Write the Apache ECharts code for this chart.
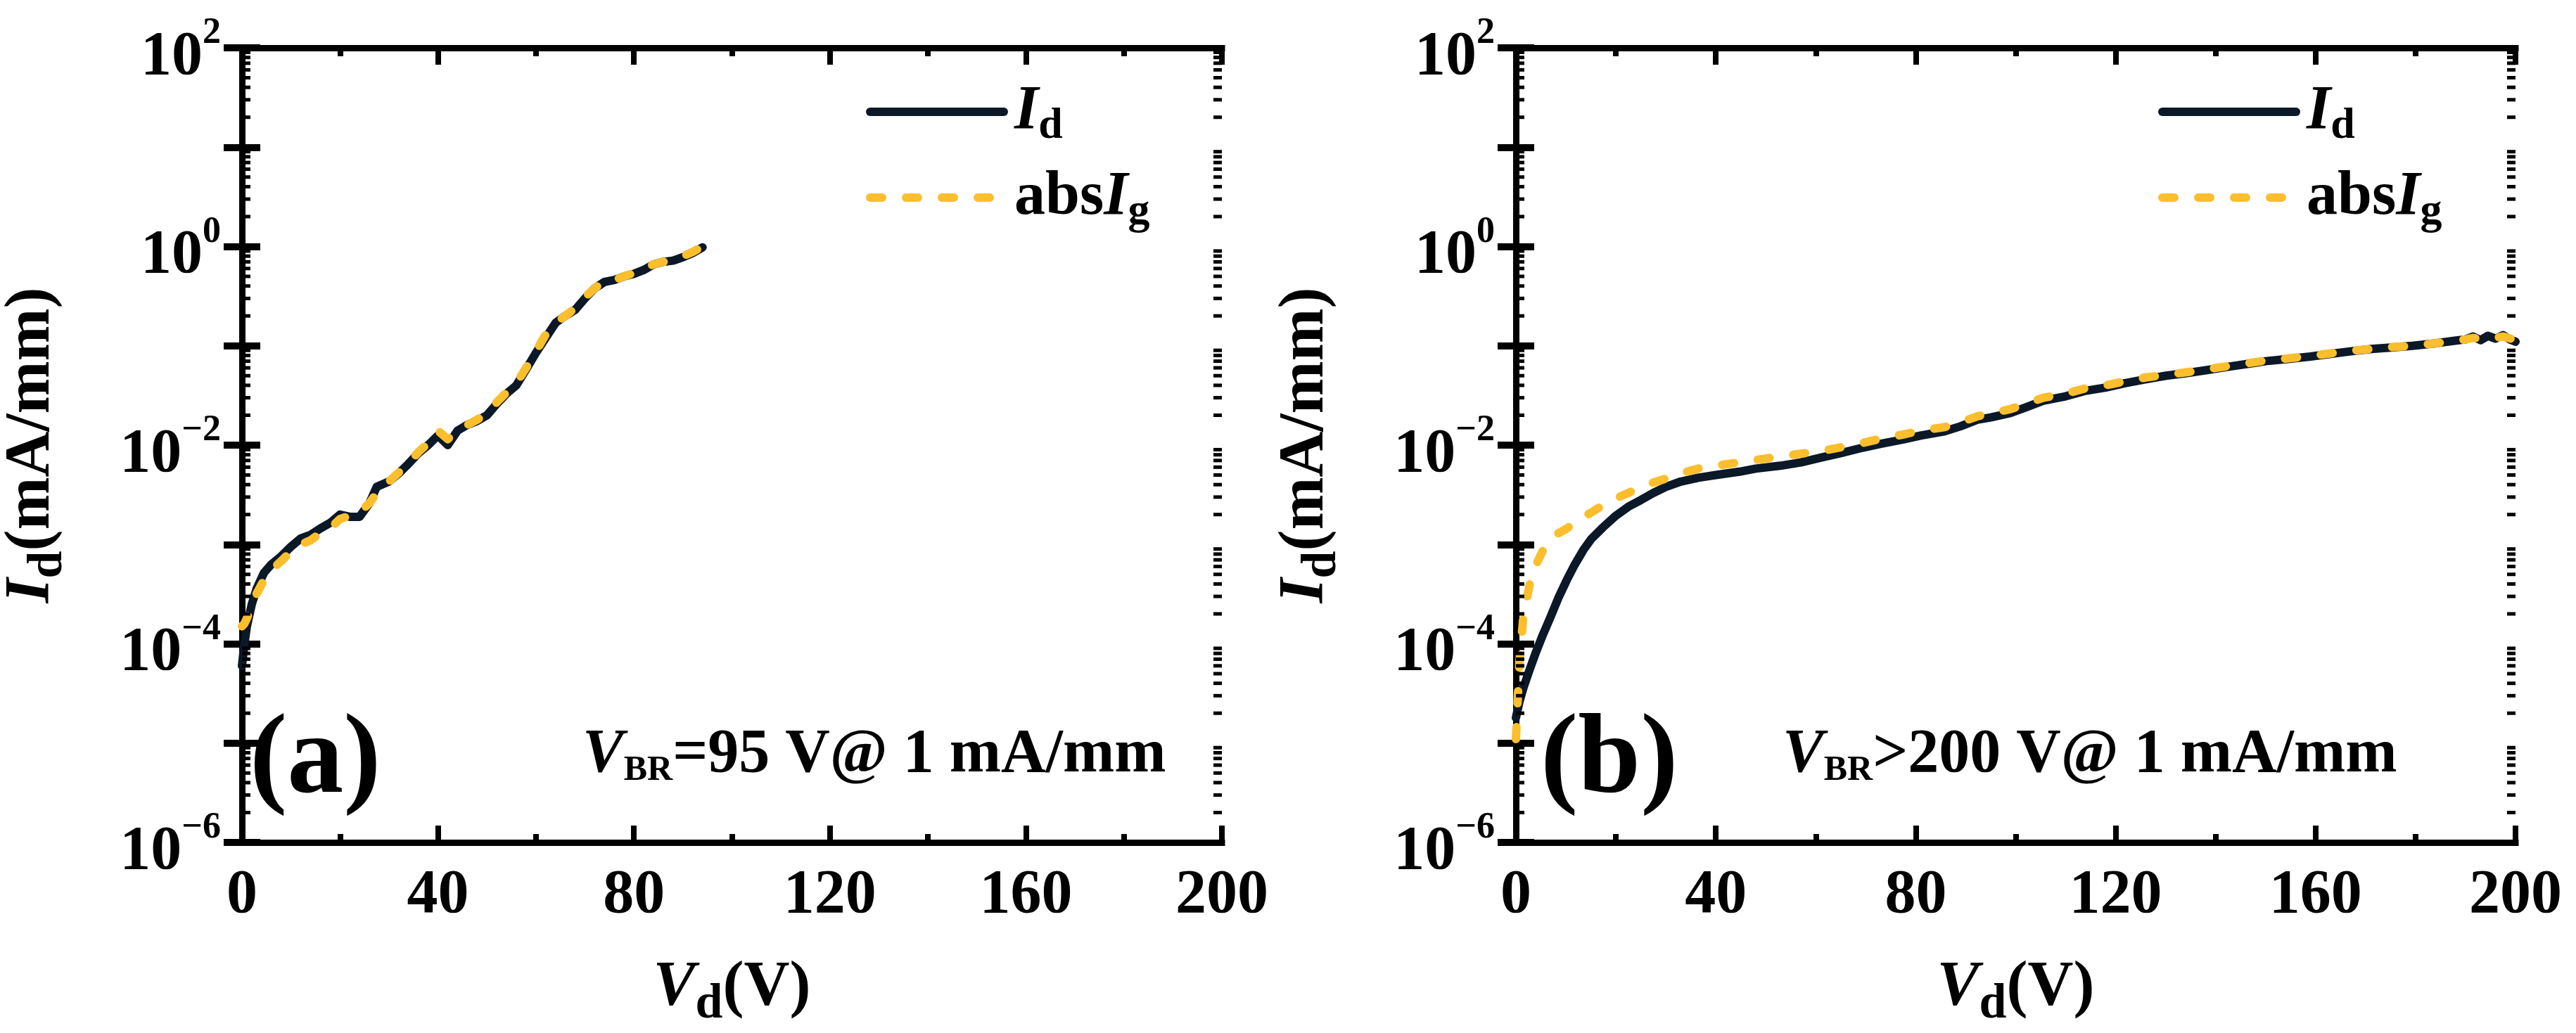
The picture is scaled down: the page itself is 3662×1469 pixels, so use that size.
<!DOCTYPE html>
<html>
<head>
<meta charset="utf-8">
<script src="https://cdn.jsdelivr.net/npm/echarts@6/dist/echarts.min.js"></script>
<style>
  html, body { margin: 0; padding: 0; background: #fff; }
  #main { width: 3662px; height: 1469px; }
</style>
</head>
<body>
<div id="main"></div>
<script>
// panel (a): breakdown at 95 V
var vdA   = [0, 0.5, 1, 2, 3, 4.5, 6, 8, 10, 12, 14, 16, 18, 20, 22, 24, 26, 27.5, 30, 32, 34, 36, 38, 40, 42, 44, 46, 48, 50, 52, 54, 56, 58, 60, 62, 64, 66, 68, 70, 72, 74, 76, 78, 80, 82, 84, 86, 88, 90, 92, 94];
var idA   = [6e-5, 1e-4, 1.5e-4, 2.5e-4, 3.6e-4, 5.2e-4, 6.3e-4, 7.6e-4, 9.5e-4, 1.15e-3, 1.25e-3, 1.45e-3, 1.65e-3, 2.0e-3, 1.9e-3, 1.9e-3, 2.6e-3, 3.8e-3, 4.3e-3, 5.2e-3, 6.5e-3, 8.3e-3, 1.0e-2, 1.25e-2, 1.0e-2, 1.4e-2, 1.6e-2, 1.75e-2, 2.0e-2, 2.6e-2, 3.3e-2, 4.0e-2, 5.8e-2, 8.5e-2, 0.12, 0.17, 0.2, 0.23, 0.3, 0.38, 0.44, 0.46, 0.5, 0.53, 0.58, 0.66, 0.7, 0.72, 0.78, 0.86, 0.98];
var igA   = [1.5e-4, 1.6e-4, 1.8e-4, 2.4e-4, 3.2e-4, 4.4e-4, 5.5e-4, 6.8e-4, 8.5e-4, 1.0e-3, 1.1e-3, 1.3e-3, 1.45e-3, 1.8e-3, 1.95e-3, 2.1e-3, 2.6e-3, 3.3e-3, 4.3e-3, 5.3e-3, 6.6e-3, 8.5e-3, 1.05e-2, 1.4e-2, 1.15e-2, 1.4e-2, 1.6e-2, 1.8e-2, 2.1e-2, 2.7e-2, 3.4e-2, 4.2e-2, 6.0e-2, 8.8e-2, 0.13, 0.17, 0.2, 0.24, 0.31, 0.38, 0.45, 0.46, 0.5, 0.54, 0.6, 0.66, 0.7, 0.73, 0.8, 0.88, 1.0];

// panel (b): no breakdown up to 200 V
var vdB   = [0, 0.7, 1.5, 2.8, 4, 5.3, 7, 8.5, 10.2, 11.8, 13.5, 15.1, 17.5, 20, 22.5, 25, 27.5, 30, 33, 36.5, 40, 44.7, 48, 52.9, 57, 61.1, 65, 69.3, 73, 77.5, 81, 85.8, 89, 92.3, 95, 98.9, 102, 105.5, 110, 113.7, 118, 121.9, 126, 130.1, 134, 138.3, 142, 146.6, 150, 154.8, 159, 163, 167, 171.2, 175, 179.4, 184, 187.6, 190, 191.5, 193, 194.5, 196, 197.5, 199, 200];
var idB   = [1.8e-5, 2.6e-5, 3.6e-5, 5.6e-5, 8.2e-5, 1.2e-4, 1.9e-4, 2.9e-4, 4.4e-4, 6.3e-4, 8.8e-4, 1.14e-3, 1.5e-3, 1.95e-3, 2.4e-3, 2.8e-3, 3.3e-3, 3.8e-3, 4.3e-3, 4.7e-3, 5.0e-3, 5.4e-3, 5.8e-3, 6.2e-3, 6.7e-3, 7.5e-3, 8.3e-3, 9.4e-3, 1.03e-2, 1.14e-2, 1.25e-2, 1.38e-2, 1.55e-2, 1.8e-2, 1.9e-2, 2.1e-2, 2.4e-2, 2.8e-2, 3.1e-2, 3.5e-2, 3.8e-2, 4.2e-2, 4.6e-2, 5.0e-2, 5.3e-2, 5.7e-2, 6.1e-2, 6.6e-2, 7.0e-2, 7.4e-2, 7.8e-2, 8.3e-2, 8.8e-2, 9.3e-2, 9.6e-2, 0.1, 0.106, 0.112, 0.116, 0.124, 0.114, 0.126, 0.118, 0.128, 0.115, 0.11];
var igB   = [1.1e-5, 6.6e-5, 1.9e-4, 4.1e-4, 6.2e-4, 8.5e-4, 1.1e-3, 1.3e-3, 1.45e-3, 1.65e-3, 1.9e-3, 2.1e-3, 2.5e-3, 2.9e-3, 3.3e-3, 3.8e-3, 4.2e-3, 4.6e-3, 5.2e-3, 5.8e-3, 6.2e-3, 6.7e-3, 7.1e-3, 7.7e-3, 8.2e-3, 8.7e-3, 9.5e-3, 1.05e-2, 1.16e-2, 1.28e-2, 1.4e-2, 1.52e-2, 1.7e-2, 1.95e-2, 2.1e-2, 2.3e-2, 2.6e-2, 3.0e-2, 3.3e-2, 3.7e-2, 4.0e-2, 4.4e-2, 4.8e-2, 5.1e-2, 5.4e-2, 5.8e-2, 6.2e-2, 6.7e-2, 7.1e-2, 7.5e-2, 7.9e-2, 8.4e-2, 8.9e-2, 9.3e-2, 9.7e-2, 0.1, 0.106, 0.112, 0.116, 0.12, 0.118, 0.122, 0.12, 0.124, 0.118, 0.115];

var seriesNames = ['Id', 'absIg'];
var xTickLabels = [0, 40, 80, 120, 160, 200];
var yLabelExps  = [2, 0, -2, -4, -6];
// minor ticks of the log axis: 2..9 x 10^n
var minorMantissas = [2, 3, 4, 5, 6, 7, 8, 9];
var minorDecades   = [-6, -5, -4, -3, -2, -1, 0, 1];

var FONT = '"Liberation Serif", "Times New Roman", serif';
var ID_COLOR = '#0b1828';
var IG_COLOR = '#fbbf2d';

function pairs(xs, ys) {
  return xs.map(function (x, i) { return [x, ys[i]]; });
}

var yMinorTicks = [];
minorDecades.forEach(function (d) {
  minorMantissas.forEach(function (m) { yMinorTicks.push([0, m * Math.pow(10, d)]); });
});

function supLabel(v) {
  var e = Math.round(Math.log10(v));
  if (yLabelExps.indexOf(e) < 0) return '';
  return '{b|10}{s|' + String(e).replace('-', '\u2212') + '}';
}

var labelRich = {
  b: { fontFamily: FONT, fontWeight: 'bold', fontSize: 88, color: '#000', padding: [28, 0, 0, 0] },
  s: { fontFamily: FONT, fontWeight: 'bold', fontSize: 52, color: '#000', padding: [0, 0, 40, 0] }
};
var nameRich = {
  i: { fontFamily: FONT, fontWeight: 'bold', fontStyle: 'italic', fontSize: 90, color: '#000' },
  n: { fontFamily: FONT, fontWeight: 'bold', fontSize: 90, color: '#000' },
  s: { fontFamily: FONT, fontWeight: 'bold', fontSize: 70, color: '#000', padding: [46, 0, 0, 0] }
};

function xAxis(grid, pos) {
  var main = pos === 'bottom';
  return {
    type: 'value', gridIndex: grid, position: pos,
    min: 0, max: 200, interval: 40,
    name: main ? '{i|V}{s|d}{n|(V)}' : '',
    nameLocation: 'middle', nameGap: 150,
    nameTextStyle: { rich: nameRich },
    axisLine: { show: true, onZero: false, lineStyle: { color: '#000', width: 9, cap: 'square' } },
    axisTick: { show: true, inside: true, length: 24, lineStyle: { color: '#000', width: 8 } },
    minorTick: { show: true, splitNumber: 2, length: 12, lineStyle: { color: '#000', width: 8 } },
    axisLabel: {
      show: main, margin: 32,
      fontFamily: FONT, fontWeight: 'bold', fontSize: 88, color: '#000',
      formatter: function (v) { return xTickLabels.indexOf(v) >= 0 ? String(v) : ''; }
    },
    splitLine: { show: false }
  };
}

function yAxis(grid, pos) {
  var main = pos === 'left';
  return {
    type: 'log', logBase: 10, gridIndex: grid, position: pos,
    min: 1e-6, max: 1e2, interval: 1,
    name: main ? '{i|I}{s|d}{n|(mA/mm)}' : '',
    nameLocation: 'middle', nameGap: 240, nameRotate: 90,
    nameTextStyle: { rich: nameRich },
    axisLine: { show: true, lineStyle: { color: '#000', width: 9, cap: 'square' } },
    axisTick: { show: true, inside: true, length: 26, lineStyle: { color: '#000', width: 10 } },
    minorTick: { show: false },
    axisLabel: { show: main, margin: 30, formatter: supLabel, rich: labelRich },
    splitLine: { show: false }
  };
}

function lineSeries(name, xi, data) {
  var isId = name === 'Id';
  return {
    name: name, type: 'line', xAxisIndex: xi, yAxisIndex: xi,
    data: data, symbol: 'none', showSymbol: false, smooth: false,
    z: isId ? 2 : 3,
    itemStyle: { color: isId ? ID_COLOR : IG_COLOR },
    lineStyle: {
      color: isId ? ID_COLOR : IG_COLOR, width: 12, cap: 'round', join: 'round',
      type: isId ? 'solid' : [17, 34]
    }
  };
}

// short inward ticks at 2..9 x 10^n on both sides of a log grid
function minorTickSeries(xi) {
  return {
    type: 'custom', xAxisIndex: xi, yAxisIndex: xi, silent: true, z: 4,
    data: yMinorTicks,
    renderItem: function (params, api) {
      var p = api.coord([api.value(0), api.value(1)]);
      var cs = params.coordSys;
      var L = 12;
      var st = { stroke: '#000', lineWidth: 5 };
      return {
        type: 'group',
        children: [
          { type: 'line', shape: { x1: cs.x, y1: p[1], x2: cs.x + L, y2: p[1] }, style: st },
          { type: 'line', shape: { x1: cs.x + cs.width - L, y1: p[1], x2: cs.x + cs.width, y2: p[1] }, style: st }
        ]
      };
    }
  };
}

var legendRich = {
  i: { fontFamily: FONT, fontWeight: 'bold', fontStyle: 'italic', fontSize: 88, color: '#000' },
  n: { fontFamily: FONT, fontWeight: 'bold', fontSize: 88, color: '#000' },
  s: { fontFamily: FONT, fontWeight: 'bold', fontSize: 62, color: '#000', padding: [42, 0, 0, 0] }
};
function legend(left) {
  return {
    data: seriesNames, orient: 'vertical', left: left, top: 110,
    itemWidth: 190, itemHeight: 12, itemGap: 26, selectedMode: false,
    itemStyle: { opacity: 0 },
    lineStyle: { width: 12, cap: 'round' },
    formatter: function (n) { return n === 'Id' ? '{i|I}{s|d}' : '{n|abs}{i|I}{s|g}'; },
    textStyle: { rich: legendRich, padding: [0, 0, 0, 10] }
  };
}

var annRich = {
  big: { fontFamily: FONT, fontWeight: 'bold', fontSize: 160, color: '#000' },
  v: { fontFamily: FONT, fontWeight: 'bold', fontStyle: 'italic', fontSize: 88, color: '#000' },
  n: { fontFamily: FONT, fontWeight: 'bold', fontSize: 88, color: '#000' },
  s: { fontFamily: FONT, fontWeight: 'bold', fontSize: 50, color: '#000', padding: [44, 0, 0, 0] }
};
function ann(x, y, text) {
  return { type: 'text', left: x, top: y, z: 10, style: { text: text, rich: annRich } };
}

var chart = echarts.init(document.getElementById('main'));
chart.setOption({
  backgroundColor: '#fff',
  animation: false,
  grid: [
    { left: 318, top: 68, width: 1419, height: 1150 },
    { left: 2155, top: 68, width: 1421, height: 1150 }
  ],
  xAxis: [xAxis(0, 'bottom'), xAxis(0, 'top'), xAxis(1, 'bottom'), xAxis(1, 'top')],
  yAxis: [yAxis(0, 'left'), yAxis(0, 'right'), yAxis(1, 'left'), yAxis(1, 'right')],
  legend: [legend(1226), legend(3063)],
  series: [
    lineSeries('Id', 0, pairs(vdA, idA)),
    lineSeries('absIg', 0, pairs(vdA, igA)),
    lineSeries('Id', 2, pairs(vdB, idB)),
    lineSeries('absIg', 2, pairs(vdB, igB)),
    minorTickSeries(0),
    minorTickSeries(2)
  ],
  graphic: [
    ann(355, 1005, '{big|(a)}'),
    ann(828, 1030, '{v|V}{s|BR}{n|=95 V@ 1 mA/mm}'),
    ann(2190, 1005, '{big|(b)}'),
    ann(2534, 1030, '{v|V}{s|BR}{n|>200 V@ 1 mA/mm}')
  ]
});
</script>
</body>
</html>
